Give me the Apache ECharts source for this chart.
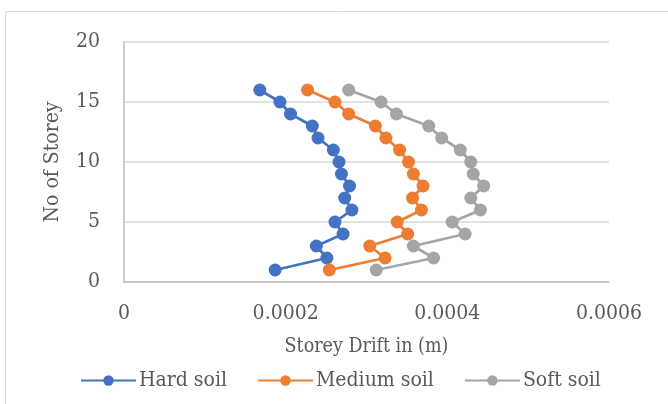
<!DOCTYPE html>
<html><head><meta charset="utf-8">
<script src="https://cdn.jsdelivr.net/npm/echarts@6/dist/echarts.min.js"></script>
<style>html,body{margin:0;padding:0;background:#fff}#c{width:668px;height:404px}</style>
</head><body><div id="c"></div>
<script>
const storeys = [1,2,3,4,5,6,7,8,9,10,11,12,13,14,15,16];
const hardSoil = [0.000187,0.000251,0.000238,0.000271,0.000261,0.000282,0.000273,0.000279,0.000269,0.000266,0.000259,0.000240,0.000233,0.000206,0.000193,0.000168];
const mediumSoil = [0.000254,0.000323,0.000304,0.000351,0.000338,0.000368,0.000357,0.000370,0.000358,0.000352,0.000341,0.000324,0.000311,0.000278,0.000261,0.000227];
const softSoil = [0.000312,0.000383,0.000358,0.000422,0.000406,0.000441,0.000429,0.000445,0.000432,0.000429,0.000416,0.000393,0.000377,0.000337,0.000318,0.000278];
const seriesNames = ['Hard soil','Medium soil','Soft soil'];
const xTicks = ['0','0.0002','0.0004','0.0006'];
const colors = ['#4472C4','#ED7D31','#A5A5A5'];
const FONT = '"DejaVu Serif Condensed", "DejaVu Serif", serif';
const TXT = '#595959';

const chart = echarts.init(document.getElementById('c'), null, {renderer:'canvas'});
const mk = (name, vals, color) => ({
  name, type:'line', data: vals.map((v,i)=>[v, storeys[i]]),
  symbol:'circle', symbolSize:13, showSymbol:true,
  lineStyle:{color, width:2.75}, itemStyle:{color},
  animation:false
});
chart.setOption({
  animation:false,
  color: colors,
  graphic:[{type:'rect', shape:{x:5.5,y:11.5,width:800,height:600}, style:{fill:'none', stroke:'#d9d9d9', lineWidth:1}, silent:true}],
  grid:{left:124, right:59, top:42, bottom:122},
  xAxis:{type:'value', min:0, max:0.0006, interval:0.0002,
    name:'Storey Drift in (m)', nameLocation:'middle', nameGap:55,
    nameTextStyle:{fontFamily:FONT, fontSize:19.5, color:TXT},
    axisLine:{show:true, lineStyle:{color:'#bfbfbf', width:1.5}},
    axisTick:{show:false},
    splitLine:{show:false},
    axisLabel:{fontFamily:FONT, fontSize:21, color:TXT, margin:21,
      formatter:(v)=>{const i=Math.round(v/0.0002); return xTicks[i]!==undefined?xTicks[i]:'';}}
  },
  yAxis:{type:'value', min:0, max:20, interval:5,
    name:'No of Storey', nameLocation:'middle', nameGap:61,
    nameTextStyle:{fontFamily:FONT, fontSize:21, color:TXT},
    axisLine:{show:true, lineStyle:{color:'#bfbfbf', width:1.5}},
    axisTick:{show:false},
    splitLine:{show:true, lineStyle:{color:'#d9d9d9', width:1.5}},
    axisLabel:{fontFamily:FONT, fontSize:21, color:TXT, margin:24}
  },
  legend:{bottom:8, left:75, itemWidth:55, itemHeight:13, itemGap:30,
    textStyle:{fontFamily:FONT, fontSize:21, color:TXT, padding:[0,0,0,-2]},
    data: seriesNames},
  series:[mk(seriesNames[0], hardSoil, colors[0]), mk(seriesNames[1], mediumSoil, colors[1]), mk(seriesNames[2], softSoil, colors[2])]
});
</script></body></html>
